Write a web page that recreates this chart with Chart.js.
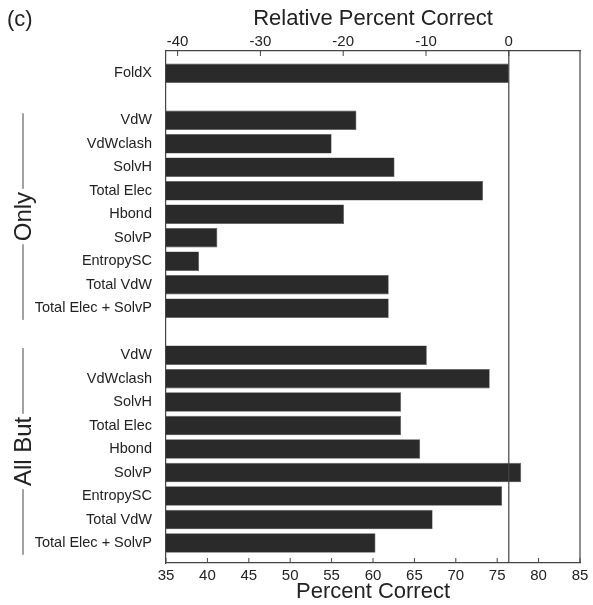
<!DOCTYPE html>
<html>
<head>
<meta charset="utf-8">
<script src="https://cdn.jsdelivr.net/npm/chart.js@4/dist/chart.umd.min.js"></script>
<style>
	html, body { margin: 0; padding: 0; background: #fff; }
	#wrap { position: relative; width: 593px; height: 605px; }
</style>
</head>
<body>
<div id="wrap"><canvas id="js-foldx-chart"></canvas></div>
<script>
// rows top to bottom, '' rows are the gaps between the groups
const rowLabels = [
	'FoldX', '',
	'VdW', 'VdWclash', 'SolvH', 'Total Elec', 'Hbond', 'SolvP', 'EntropySC', 'Total VdW', 'Total Elec + SolvP', '',
	'VdW', 'VdWclash', 'SolvH', 'Total Elec', 'Hbond', 'SolvP', 'EntropySC', 'Total VdW', 'Total Elec + SolvP',
];
const percentCorrect = [
	76.4, null,
	58.0, 55.0, 62.6, 73.3, 56.5, 41.2, 39.0, 61.9, 61.9, null,
	66.5, 74.1, 63.4, 63.4, 65.7, 77.9, 75.6, 67.2, 60.3,
];
const foldxValue = 76.4;
const groupNames = ['Only', 'All But'];
const groupFirstRow = [2, 12];
const groupLastRow = [10, 20];
const bottomTicks = [35, 40, 45, 50, 55, 60, 65, 70, 75, 80, 85];
const topTicks = [-40, -30, -20, -10, 0];

const FONT = "'Liberation Sans', Arial, Helvetica, sans-serif";
const INK = '#222';
const LINE = '#444';

const points = [];
percentCorrect.forEach((v, i) => {
	if (v !== null) points.push({ x: v, y: i });
});

const framePlugin = {
	id: 'frame',
	afterDraw(chart) {
		const { ctx, chartArea: a, scales } = chart;
		const xs = scales.x;
		const x2 = scales.x2;
		const ys = scales.y;
		ctx.save();
		ctx.strokeStyle = LINE;
		ctx.lineWidth = 1.2;
		// right edge
		ctx.beginPath();
		ctx.moveTo(a.right, a.top);
		ctx.lineTo(a.right, a.bottom);
		ctx.stroke();
		// FoldX reference line
		const fx = xs.getPixelForValue(foldxValue);
		ctx.beginPath();
		ctx.moveTo(fx, a.top);
		ctx.lineTo(fx, a.bottom);
		ctx.stroke();
		// inward ticks
		ctx.lineWidth = 1;
		bottomTicks.forEach((t) => {
			const px = xs.getPixelForValue(t);
			ctx.beginPath();
			ctx.moveTo(px, a.bottom);
			ctx.lineTo(px, a.bottom - 5);
			ctx.stroke();
		});
		topTicks.forEach((t) => {
			const px = x2.getPixelForValue(t);
			ctx.beginPath();
			ctx.moveTo(px, a.top);
			ctx.lineTo(px, a.top + 5);
			ctx.stroke();
		});
		// group brackets
		ctx.font = '24px ' + FONT;
		ctx.fillStyle = INK;
		ctx.textAlign = 'center';
		ctx.textBaseline = 'middle';
		const bx = 23;
		groupNames.forEach((name, g) => {
			const y1 = ys.getPixelForValue(groupFirstRow[g] - 0.3);
			const y2 = ys.getPixelForValue(groupLastRow[g] + 0.5);
			const yc = (y1 + y2) / 2;
			const w = ctx.measureText(name).width;
			ctx.beginPath();
			ctx.moveTo(bx, y1);
			ctx.lineTo(bx, yc - w / 2 - 3);
			ctx.moveTo(bx, yc + w / 2 + 3);
			ctx.lineTo(bx, y2);
			ctx.stroke();
			ctx.save();
			ctx.translate(bx + 1, yc);
			ctx.rotate(-Math.PI / 2);
			ctx.fillText(name, 0, 0);
			ctx.restore();
		});
		// panel letter
		ctx.font = '22px ' + FONT;
		ctx.textAlign = 'left';
		ctx.textBaseline = 'alphabetic';
		ctx.fillText('(c)', 7, 26);
		ctx.restore();
	},
};

const ctx = document.getElementById('js-foldx-chart');
const chart = new Chart(ctx, {
	type: 'bar',
	data: {
		datasets: [
			{
				data: points,
				backgroundColor: '#2a2a2a',
				borderColor: '#555',
				borderWidth: 0.6,
				borderSkipped: false,
				barPercentage: 0.83,
				categoryPercentage: 1,
				xAxisID: 'x',
				yAxisID: 'y',
			},
		],
	},
	options: {
		indexAxis: 'y',
		responsive: true,
		maintainAspectRatio: false,
		animation: false,
		layout: { padding: { left: 0, right: 13, top: 0, bottom: 0 } },
		plugins: {
			legend: { display: false },
			tooltip: { enabled: false },
		},
		scales: {
			x: {
				type: 'linear',
				position: 'bottom',
				min: 35,
				max: 85,
				afterFit: (s) => { s.height = 42; },
				afterBuildTicks: (s) => { s.ticks = bottomTicks.map((v) => ({ value: v })); },
				grid: { display: false, drawTicks: false },
				border: { display: true, color: LINE, width: 1.2 },
				ticks: { color: INK, font: { family: FONT, size: 15 }, padding: 4, maxRotation: 0 },
				title: { display: true, text: 'Percent Correct', color: INK, font: { family: FONT, size: 22 }, padding: { top: 0, bottom: 0 } },
			},
			x2: {
				type: 'linear',
				position: 'top',
				min: 35 - foldxValue,
				max: 85 - foldxValue,
				afterFit: (s) => { s.height = 51; },
				afterBuildTicks: (s) => { s.ticks = topTicks.map((v) => ({ value: v })); },
				grid: { display: false, drawTicks: false },
				border: { display: true, color: LINE, width: 1.2 },
				ticks: { color: INK, font: { family: FONT, size: 15 }, padding: 0, maxRotation: 0 },
				title: { display: true, text: 'Relative Percent Correct', color: INK, font: { family: FONT, size: 22 }, padding: { top: 6, bottom: 0 } },
			},
			y: {
				type: 'linear',
				reverse: true,
				offset: false,
				min: -0.95,
				max: 20.85,
				afterFit: (s) => { s.width = 166; },
				afterBuildTicks: (s) => { s.ticks = rowLabels.map((l, i) => ({ value: i })); },
				grid: { display: false, drawTicks: false, offset: false },
				border: { display: true, color: LINE, width: 1.2 },
				ticks: {
					color: INK,
					font: { family: FONT, size: 14.5 },
					padding: 14,
					autoSkip: false,
					callback: (v) => rowLabels[v] || '',
				},
			},
		},
	},
	plugins: [framePlugin],
});
</script>
</body>
</html>
